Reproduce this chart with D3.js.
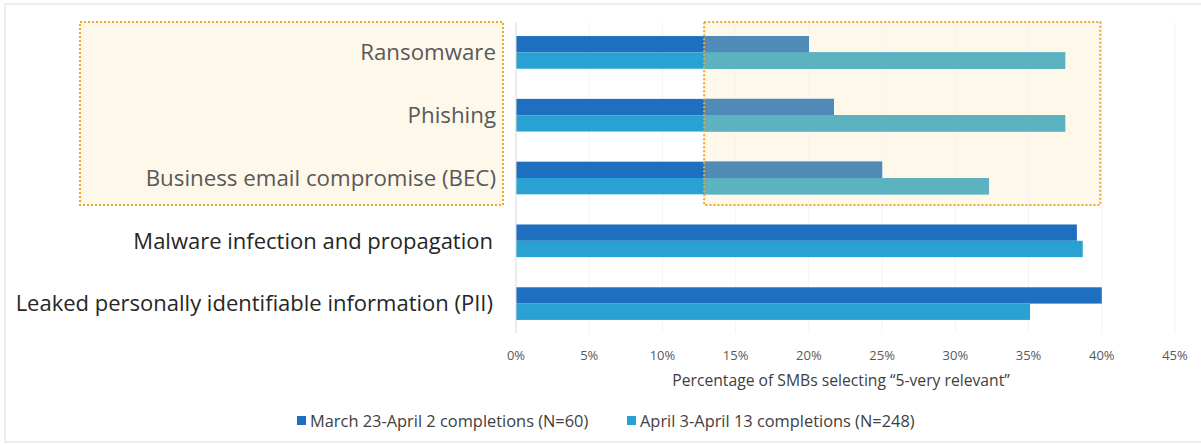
<!DOCTYPE html>
<html>
<head>
<meta charset="utf-8">
<script src="https://cdn.jsdelivr.net/npm/d3@7"></script>
<style>
  body { margin: 0; background: #fff; }
  svg { display: block; font-family: "Open Sans", sans-serif; }
</style>
</head>
<body>
<svg id="chart" width="1201" height="445"></svg>
<script>
// data
const categories = [
  "Ransomware",
  "Phishing",
  "Business email compromise (BEC)",
  "Malware infection and propagation",
  "Leaked personally identifiable information (PII)"
];
const seriesNames = [
  "March 23-April 2 completions (N=60)",
  "April 3-April 13 completions (N=248)"
];
const march = [20.0, 21.7, 25.0, 38.3, 40.0];
const april = [37.5, 37.5, 32.3, 38.7, 35.1];
const ticks = [0, 5, 10, 15, 20, 25, 30, 35, 40, 45];
const highlighted = ["Ransomware", "Phishing", "Business email compromise (BEC)"];
const highlightRange = [12.85, 39.9]; // dotted box over the bars, in %

const colors = ["#1f6fc1", "#29a1d2"];
const fadedColors = ["#508ab6", "#5db2c0"];

const svg = d3.select("#chart");

// outer frame
svg.append("rect")
  .attr("x", 5).attr("y", 4).attr("width", 1200).attr("height", 438)
  .attr("fill", "none").attr("stroke", "#e8e8e8").attr("stroke-width", 1.5);

const x = d3.scaleLinear().domain([0, 45]).range([516, 1175]);
const y = d3.scaleBand().domain(categories).range([21, 335])
  .paddingInner(0.48).paddingOuter(0.24);
const sub = d3.scaleBand().domain([0, 1]).range([0, y.bandwidth()]);

const rows = categories.map((c, i) => ({cat: c, vals: [march[i], april[i]]}));

// highlight boxes (background)
const hiTop = 22, hiBottom = 205;
svg.append("rect")
  .attr("x", 80).attr("y", hiTop)
  .attr("width", 503 - 80).attr("height", hiBottom - hiTop)
  .attr("fill", "#fdf8ea");
svg.append("rect")
  .attr("x", x(highlightRange[0])).attr("y", hiTop)
  .attr("width", x(highlightRange[1]) - x(highlightRange[0])).attr("height", hiBottom - hiTop)
  .attr("fill", "#fdf8ea");

// faint gridlines
svg.append("g").selectAll("line")
  .data(ticks.slice(1))
  .join("line")
  .attr("x1", d => x(d)).attr("x2", d => x(d))
  .attr("y1", 22).attr("y2", 333)
  .attr("stroke", "#f3f3f3").attr("stroke-width", 1);

// bars
const groups = svg.append("g").selectAll("g")
  .data(rows)
  .join("g")
  .attr("transform", d => `translate(0,${y(d.cat)})`);

groups.selectAll("rect")
  .data(d => d.vals.map((v, k) => ({v, k})))
  .join("rect")
  .attr("x", x(0))
  .attr("y", d => sub(d.k))
  .attr("width", d => x(d.v) - x(0))
  .attr("height", sub.bandwidth())
  .attr("fill", d => colors[d.k]);

// faded overlap inside the right box
svg.append("clipPath").attr("id", "hiClip")
  .append("rect")
  .attr("x", x(highlightRange[0])).attr("y", hiTop)
  .attr("width", x(highlightRange[1]) - x(highlightRange[0])).attr("height", hiBottom - hiTop);

svg.append("g").attr("clip-path", "url(#hiClip)")
  .selectAll("g")
  .data(rows.filter(r => highlighted.includes(r.cat)))
  .join("g")
  .attr("transform", d => `translate(0,${y(d.cat)})`)
  .selectAll("rect")
  .data(d => d.vals.map((v, k) => ({v, k})))
  .join("rect")
  .attr("x", x(0))
  .attr("y", d => sub(d.k))
  .attr("width", d => x(d.v) - x(0))
  .attr("height", sub.bandwidth())
  .attr("fill", d => fadedColors[d.k]);

// dotted outlines
svg.append("rect")
  .attr("x", 80).attr("y", hiTop)
  .attr("width", 503 - 80).attr("height", hiBottom - hiTop)
  .attr("fill", "none").attr("stroke", "#f0a72e").attr("stroke-width", 2)
  .attr("stroke-dasharray", "2,2");
svg.append("rect")
  .attr("x", x(highlightRange[0])).attr("y", hiTop)
  .attr("width", x(highlightRange[1]) - x(highlightRange[0])).attr("height", hiBottom - hiTop)
  .attr("fill", "none").attr("stroke", "#f0a72e").attr("stroke-width", 2)
  .attr("stroke-dasharray", "2,2");

// y axis line
svg.append("line")
  .attr("x1", x(0)).attr("x2", x(0))
  .attr("y1", 22).attr("y2", 333)
  .attr("stroke", "#d9d9d9").attr("stroke-width", 1);

// category labels
svg.append("g").selectAll("text")
  .data(categories)
  .join("text")
  .attr("x", d => highlighted.includes(d) ? 496 : 493)
  .attr("y", d => y(d) + y.bandwidth() / 2)
  .attr("dy", "0.35em")
  .attr("text-anchor", "end")
  .attr("font-size", d => highlighted.includes(d) ? 22.3 : 22)
  .attr("fill", d => highlighted.includes(d) ? "#595959" : "#262626")
  .text(d => d);

// x axis tick labels
svg.append("g").selectAll("text")
  .data(ticks)
  .join("text")
  .attr("x", d => x(d))
  .attr("y", 360)
  .attr("text-anchor", "middle")
  .attr("font-size", 13)
  .attr("fill", "#595959")
  .text(d => d + "%");

svg.append("text")
  .attr("x", 841).attr("y", 386)
  .attr("text-anchor", "middle")
  .attr("font-size", 15.7)
  .attr("fill", "#404040")
  .text("Percentage of SMBs selecting \u201C5-very relevant\u201D");

// legend
const legendX = [297, 627];
const legend = svg.append("g").selectAll("g")
  .data(seriesNames)
  .join("g")
  .attr("transform", (d, i) => `translate(${legendX[i]},427)`);
legend.append("rect")
  .attr("x", 0).attr("y", -11).attr("width", 9).attr("height", 9)
  .attr("fill", (d, i) => colors[i]);
legend.append("text")
  .attr("x", 13).attr("y", 0)
  .attr("font-size", 16.4)
  .attr("fill", "#404040")
  .text(d => d);
</script>
</body>
</html>
